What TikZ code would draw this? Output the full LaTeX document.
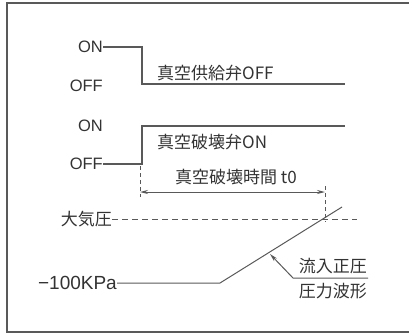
\documentclass[tikz,border=0pt]{standalone}
\usepackage{fontspec}
\setmainfont{Liberation Sans}
\newfontfamily\jp{Noto Sans CJK JP}
\usetikzlibrary{arrows.meta}
\definecolor{ln}{gray}{0.35}
\definecolor{tx}{gray}{0.2}
\tikzset{
  sig/.style={draw=ln, line width=1.2pt},
  thin/.style={draw=ln, line width=1pt},
  dsh/.style={draw=ln, line width=1pt, dash pattern=on 6pt off 4pt},
  lbl/.style={text=tx, font=\fontsize{16.5}{17}\selectfont, inner sep=0pt},
  jlbl/.style={text=tx, font=\jp\fontsize{17}{17}\selectfont, inner sep=0pt},
}
\begin{document}
\begin{tikzpicture}[x=1pt,y=-1pt]
\useasboundingbox (0,0) rectangle (409,335);
\draw[draw=ln, line width=1.4pt] (415,3) -- (7,3) -- (7,332) -- (415,332);
% signal 1
\node[lbl, anchor=east] (on1) at (103,47) {ON};
\node[lbl, anchor=east] (off1) at (103,86) {OFF};
\coordinate (a1) at (142,47);
\coordinate (a2) at (142,84);
\coordinate (a3) at (345,84);
\draw[sig] (on1.east) -- (a1) -- (a2) -- (a3);
\node[jlbl, anchor=west] (s1) at (157,73) {真空供給弁OFF};
% signal 2
\node[lbl, anchor=east] (on2) at (103,126) {ON};
\node[lbl, anchor=east] (off2) at (103,164) {OFF};
\coordinate (b1) at (142,164);
\coordinate (b2) at (142,126);
\coordinate (b3) at (345,126);
\draw[sig] (off2.east) -- (b1) -- (b2) -- (b3);
\node[jlbl, anchor=west] (s2) at (157,142) {真空破壊弁ON};
% time
\coordinate (d1) at (140,166);
\coordinate (d2) at (140,197);
\coordinate (d3) at (325,186);
\coordinate (d4) at (325,222);
\draw[dsh, dash pattern=on 4pt off 3pt] (d1) -- (d2);
\draw[dsh, dash pattern=on 4pt off 3pt] (d3) -- (d4);
\coordinate (t1) at (140,192);
\coordinate (t2) at (325,192);
\draw[thin, {Stealth[length=8pt,width=4pt]}-{Stealth[length=8pt,width=4pt]}] (t1) -- (t2);
\node[jlbl, anchor=center] (tt) at (236,177) {真空破壊時間 t0};
% atmosphere
\node[jlbl, anchor=east] (atm) at (112,219) {大気圧};
\coordinate (atmE) at (357,219);
\draw[dsh] (atm.east) -- (atmE);
% pressure
\node[lbl, anchor=east, font=\fontsize{19}{19}\selectfont] (p0) at (117,283) {−100KPa};
\coordinate (p1) at (220,283);
\coordinate (p2) at (342,207);
\draw[thin] (p0.east) -- (p1) -- (p2);
% leader
\coordinate (lt) at (270,254);
\coordinate (lk) at (293,278);
\coordinate (le) at (368,278);
\draw[thin, {Stealth[length=8pt,width=4pt]}-] (lt) -- (lk) -- (le);
\node[jlbl, anchor=south east] (w1) at (367,274) {流入正圧};
\node[jlbl, anchor=north east] (w2) at (367,283) {圧力波形};
\end{tikzpicture}
\end{document}
